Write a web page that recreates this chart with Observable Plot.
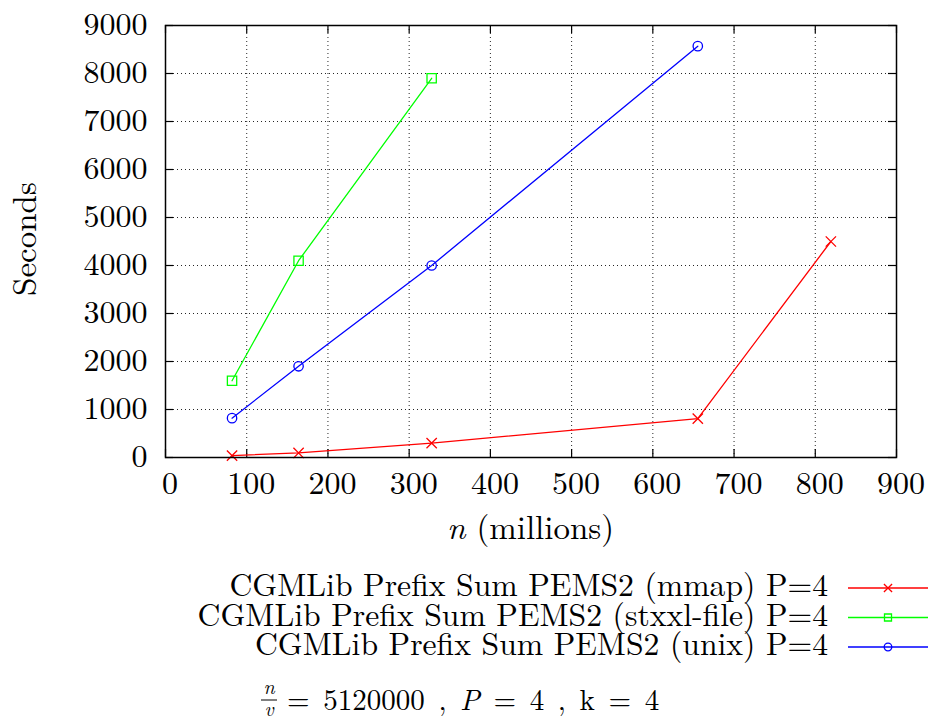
<!DOCTYPE html>
<html><head><meta charset="utf-8">
<script src="https://cdn.jsdelivr.net/npm/d3@7"></script>
<script src="https://cdn.jsdelivr.net/npm/@observablehq/plot@0.6"></script>
<style>
body{margin:0;background:#fff;}
#chart svg{display:block;}
#chart svg text, #chart svg tspan{font-family:'Latin Modern Roman','Liberation Serif',serif;}
</style>
</head><body><div id="chart"></div>
<script>
// ---- data ----
const nMillions = [81.92, 163.84, 327.68, 655.36, 819.2];
const mmapSeconds = [40, 95, 300, 810, 4500];
const stxxlSeconds = [1600, 4100, 7900];
const unixSeconds = [820, 1900, 4000, 8570];
const seriesNames = [
  "CGMLib Prefix Sum PEMS2 (mmap) P=4",
  "CGMLib Prefix Sum PEMS2 (stxxl-file) P=4",
  "CGMLib Prefix Sum PEMS2 (unix) P=4"
];
const seriesColors = ["#ff0000", "#00ff00", "#0000ff"];
const seriesSymbols = ["times", "square", "circle"];
const xTicks = [0, 100, 200, 300, 400, 500, 600, 700, 800, 900];
const yTicks = [0, 1000, 2000, 3000, 4000, 5000, 6000, 7000, 8000, 9000];
const xLabelItalic = "n";
const xLabelRest = " (millions)";
const yLabel = "Seconds";

const data = [];
[mmapSeconds, stxxlSeconds, unixSeconds].forEach((vals, i) =>
  vals.forEach((v, j) => data.push({series: seriesNames[i], n: nMillions[j], seconds: v})));

// ---- layout ----
const FONT = "'Latin Modern Roman', 'Liberation Serif', serif";
const W = 930, H = 550, mL = 165, mR = 34, mT = 25, mB = 93;
const innerH = H - mT - mB, innerW = W - mL - mR;
const tick = 8;
const symbolR = {times: 4.75, square: 5.25, circle: 4.7};

const marks = [
  Plot.gridX(xTicks, {stroke: "#000", strokeOpacity: 0.85, strokeDasharray: "1,3", strokeWidth: 1}),
  Plot.gridY(yTicks, {stroke: "#000", strokeOpacity: 0.85, strokeDasharray: "1,3", strokeWidth: 1}),
  Plot.ruleX(xTicks, {insetTop: innerH - tick, stroke: "#000", strokeWidth: 1.2}),
  Plot.ruleX(xTicks, {insetBottom: innerH - tick, stroke: "#000", strokeWidth: 1.2}),
  Plot.ruleY(yTicks, {insetRight: innerW - tick, stroke: "#000", strokeWidth: 1.2}),
  Plot.ruleY(yTicks, {insetLeft: innerW - tick, stroke: "#000", strokeWidth: 1.2}),
  Plot.axisX(xTicks, {tickSize: 0, tickPadding: 14, dx: 4.5, fontSize: 32, label: null, tickFormat: d => String(d), fontFamily: FONT}),
  Plot.axisY(yTicks, {tickSize: 0, tickPadding: 18, dy: -1, fontSize: 32, label: null, tickFormat: d => String(d), fontFamily: FONT}),
  Plot.line(data, {x: "n", y: "seconds", z: "series", stroke: "series", strokeWidth: 1.3})
];
seriesNames.forEach((name, i) => {
  marks.push(Plot.dot(data.filter(d => d.series === name), {
    x: "n", y: "seconds", symbol: "series", stroke: "series", fill: "none",
    r: symbolR[seriesSymbols[i]], strokeWidth: 1.3
  }));
});
marks.push(Plot.frame({stroke: "#000", strokeWidth: 1.5}));

const chart = Plot.plot({
  width: W, height: H,
  marginLeft: mL, marginRight: mR, marginTop: mT, marginBottom: mB,
  style: {fontFamily: FONT, fontSize: "32px", background: "#fff", color: "#000"},
  x: {domain: [0, 900], label: null},
  y: {domain: [0, 9000], label: null},
  color: {domain: seriesNames, range: seriesColors},
  symbol: {domain: seriesNames, range: seriesSymbols},
  marks
});
document.getElementById("chart").appendChild(chart);

// axis titles
const svg = d3.select(chart);
const xt = svg.append("text")
  .attr("x", mL + innerW / 2).attr("y", 539)
  .attr("text-anchor", "middle").attr("font-family", FONT).attr("font-size", 33).attr("fill", "#000");
xt.append("tspan").attr("font-style", "italic").text(xLabelItalic);
xt.append("tspan").text(xLabelRest);
svg.append("text")
  .attr("transform", "translate(36,239) rotate(-90)")
  .attr("text-anchor", "middle").attr("font-family", FONT).attr("font-size", 33).attr("fill", "#000")
  .text(yLabel);

// ---- legend + caption below ----
const LH = 723 - H;
const leg = d3.select("#chart").append("svg")
  .attr("width", W).attr("height", LH)
  .style("display", "block").style("background", "#fff");
const rowLine = [38, 67.5, 97];
const legendSymbolSize = {times: 45, square: 49, circle: 45};
const symMap = {times: d3.symbolTimes, square: d3.symbolSquare, circle: d3.symbolCircle};
seriesNames.forEach((name, i) => {
  const y = rowLine[i];
  leg.append("text").attr("x", 828).attr("y", y + 8)
    .attr("text-anchor", "end").attr("font-family", FONT).attr("font-size", 31.7).attr("fill", "#000")
    .text(name);
  leg.append("line").attr("x1", 848).attr("x2", 928).attr("y1", y).attr("y2", y)
    .attr("stroke", seriesColors[i]).attr("stroke-width", 1.3);
  leg.append("path")
    .attr("d", d3.symbol(symMap[seriesSymbols[i]], legendSymbolSize[seriesSymbols[i]])())
    .attr("transform", `translate(888,${y})`)
    .attr("fill", "none").attr("stroke", seriesColors[i]).attr("stroke-width", 1.3);
});

// caption: n/v = 5120000 , P = 4 , k = 4
const cap = leg.append("g").attr("font-family", FONT).attr("fill", "#000");
cap.append("text").attr("x", 269).attr("y", 144).attr("text-anchor", "middle")
  .attr("font-size", 20).attr("font-style", "italic").text("n");
cap.append("line").attr("x1", 261).attr("x2", 277).attr("y1", 150).attr("y2", 150)
  .attr("stroke", "#000").attr("stroke-width", 1);
cap.append("text").attr("x", 269).attr("y", 166).attr("text-anchor", "middle")
  .attr("font-size", 20).attr("font-style", "italic").text("v");
const ct = cap.append("text").attr("x", 287).attr("y", 160).attr("font-size", 29)
  .attr("word-spacing", 4).attr("xml:space", "preserve");
ct.append("tspan").text("= 5120000 , ");
ct.append("tspan").attr("font-style", "italic").text("P");
ct.append("tspan").text(" = 4 , k = 4");
</script>
</body></html>
